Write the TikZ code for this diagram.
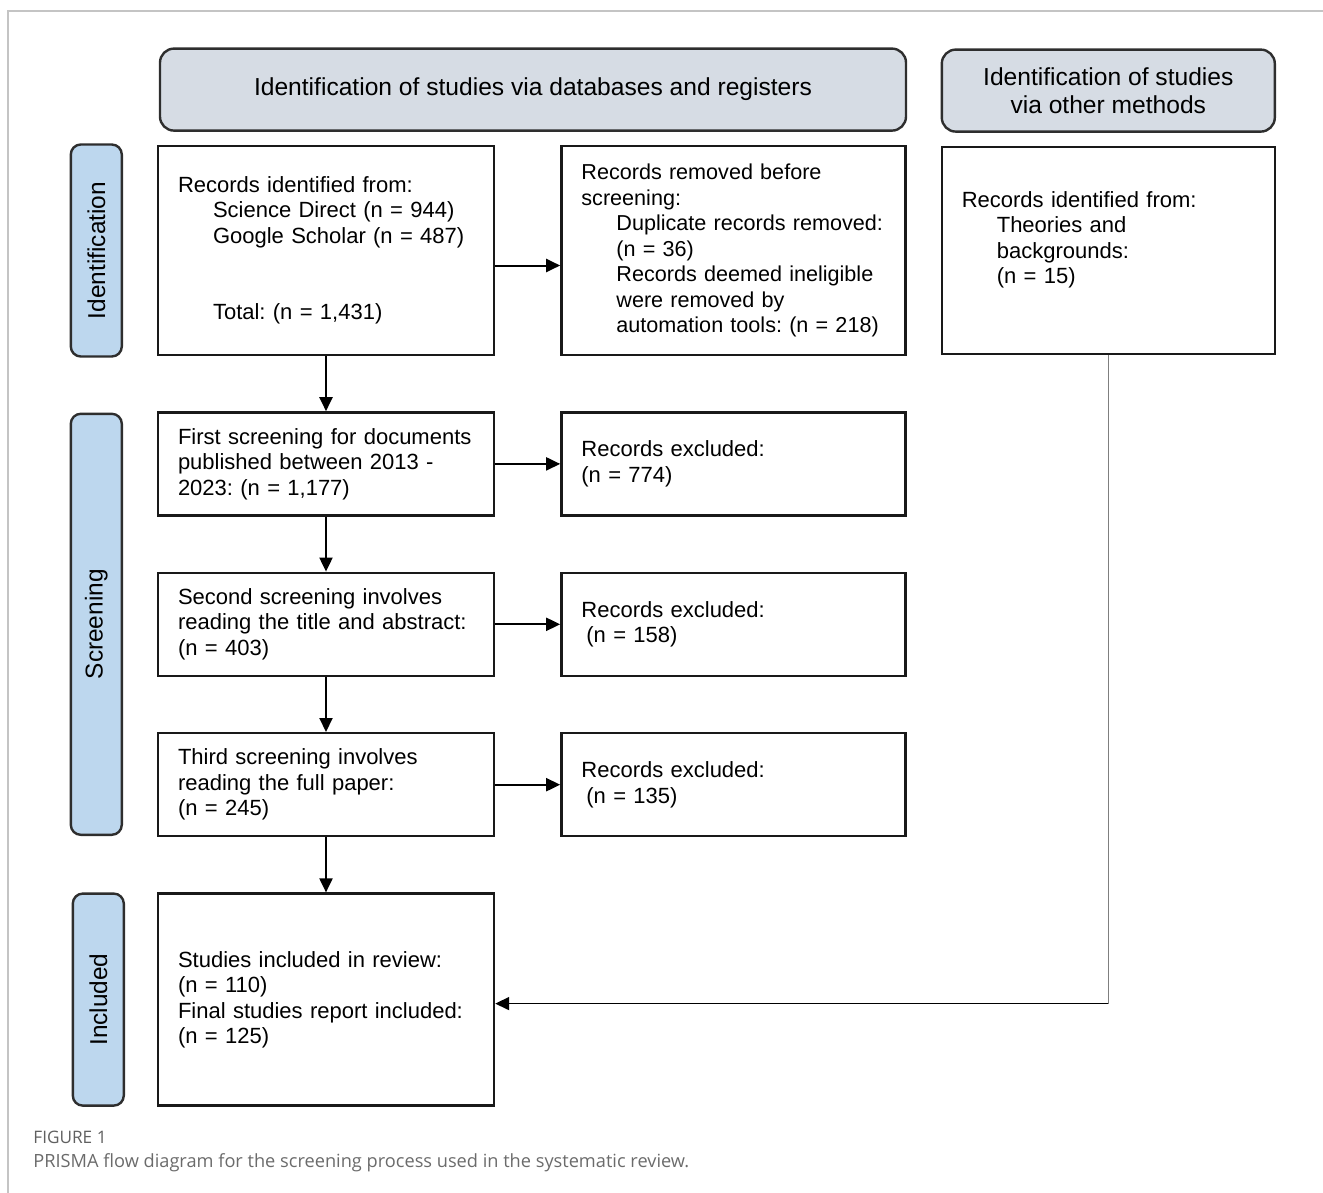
\documentclass[tikz,border=0pt]{standalone}
\usepackage{fontspec}
\setmainfont{Liberation Sans}
\newfontfamily\capfont{Open Sans}
\usetikzlibrary{arrows.meta, positioning, calc}
\frenchspacing

\definecolor{headfill}{HTML}{D6DCE4}
\definecolor{sidefill}{HTML}{BDD7EE}
\definecolor{edgegray}{HTML}{2E2E2E}
\definecolor{framegray}{HTML}{C4C4C4}
\definecolor{feedgray}{HTML}{7F7F7F}
\definecolor{capgray}{HTML}{6B6B6B}

\newcommand{\subind}{\hspace*{17.5pt}}

\begin{document}
\begin{tikzpicture}[
    x=0.5pt, y=-0.5pt,
    node distance=27.5pt and 32.5pt,
    box/.style={
        rectangle,
        draw=black!90,
        line width=1.2pt,
        align=left,
        inner xsep=10pt,
        text width=148pt,
        font=\fontsize{11}{12.75}\selectfont
    },
    rbox/.style={box, text width=152pt},
    obox/.style={box, text width=146.5pt},
    head/.style={
        rectangle,
        rounded corners=7pt,
        draw=edgegray,
        line width=1.2pt,
        fill=headfill,
        align=center,
        minimum height=41pt,
        font=\fontsize{12.3}{14}\selectfont
    },
    side/.style={
        rectangle,
        rounded corners=5pt,
        draw=edgegray,
        line width=1.2pt,
        fill=sidefill,
        rotate=90,
        minimum height=25.5pt,
        inner sep=0pt,
        font=\fontsize{12.2}{14}\selectfont
    },
    arrow/.style={-{Triangle[length=7pt, width=6.5pt]}, line width=1pt}
]

% outer frame
\useasboundingbox (0,0) rectangle (1323,1193);
\draw[framegray, line width=0.8pt] (8,1193) -- (8,11) -- (1323,11);

% main column
\node[box, minimum height=104.5pt] (records) at (326,250.5) {Records identified from:\\
    \subind Science Direct (n = 944)\\
    \subind Google Scholar (n = 487)\\[25.5pt]
    \subind Total: (n = 1,431)};
\node[box, below=of records, minimum height=51.5pt] (screen1) {First screening for documents\\published between 2013 -\\2023: (n = 1,177)};
\node[box, below=of screen1, minimum height=51.5pt] (screen2) {Second screening involves\\reading the title and abstract:\\(n = 403)};
\node[box, below=of screen2, minimum height=51.5pt] (screen3) {Third screening involves\\reading the full paper:\\(n = 245)};
\node[box, below=of screen3, minimum height=106pt] (included) {Studies included in review:\\(n = 110)\\Final studies report included:\\(n = 125)};

% removed / excluded column
\node[rbox, right=of records, minimum height=104.5pt, font=\fontsize{10.8}{12.75}\selectfont] (removed) {Records removed before\\screening:\\
    \subind Duplicate records removed:\\
    \subind (n = 36)\\
    \subind Records deemed ineligible\\
    \subind were removed by\\
    \subind automation tools: (n = 218)};
\node[rbox, right=of screen1, minimum height=51.5pt] (excl1) {Records excluded:\\(n = 774)};
\node[rbox, right=of screen2, minimum height=51.5pt] (excl2) {Records excluded:\\\hspace*{2.5pt}(n = 158)};
\node[rbox, right=of screen3, minimum height=51.5pt] (excl3) {Records excluded:\\\hspace*{2.5pt}(n = 135)};

% other methods
\node[obox, right=17pt of removed, minimum height=103.5pt] (other) {Records identified from:\\
    \subind Theories and\\
    \subind backgrounds:\\
    \subind (n = 15)\\~};

% headers
\node[head, minimum width=373pt, above=6.5pt of records.north west, anchor=south west, xshift=1pt] (headdb) {Identification of studies via databases and registers};
\node[head, minimum width=166.5pt, above=6.5pt of other] (headother) {Identification of studies\\via other methods};

% phase bars
\node[side, minimum width=106pt] (sideid) at ($(records.west)+(-30.25pt,0)$) {Identification};
\node[side, minimum width=210.5pt] (sidescreen) at ($(screen1.north west)!0.5!(screen3.south west)+(-30.25pt,0)$) {Screening};
\node[side, minimum width=106pt] (sideinc) at ($(included.west)+(-29.25pt,0)$) {Included};

% connectors
\draw[arrow] (records) -- (screen1);
\draw[arrow] (screen1) -- (screen2);
\draw[arrow] (screen2) -- (screen3);
\draw[arrow] (screen3) -- (included);
\draw[arrow] ([yshift=-7.5pt]records.east) -- ([yshift=-7.5pt]records.east -| removed.west);
\draw[arrow] (screen1.east) -- (screen1.east -| excl1.west);
\draw[arrow] (screen2.east) -- (screen2.east -| excl2.west);
\draw[arrow] (screen3.east) -- (screen3.east -| excl3.west);
\coordinate (bend) at ([yshift=-2pt]other.south |- included.east);
\draw[feedgray, line width=0.8pt] (other.south) -- (bend);
\draw[arrow, line width=0.8pt] (bend) -- (bend -| included.east);

% caption
\node[anchor=base west, inner sep=0pt, text=capgray!90!black, font=\capfont\fontsize{8.6}{10}\selectfont] (figlabel) at (33,1143) {FIGURE 1};
\node[anchor=base west, inner sep=0pt, text=capgray, font=\capfont\fontsize{9.1}{11}\selectfont] (figcaption) at (33,1167) {PRISMA flow diagram for the screening process used in the systematic review.};

\end{tikzpicture}
\end{document}
